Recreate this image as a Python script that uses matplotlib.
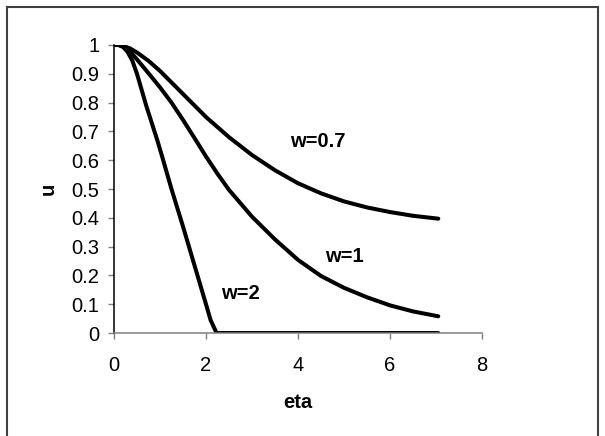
import matplotlib
matplotlib.use('Agg')
import matplotlib.pyplot as plt
from matplotlib.lines import Line2D

plt.rcParams['font.family'] = ['Liberation Sans', 'DejaVu Sans']

# eta / u values
eta_07 = [0, 0.1, 0.2, 0.35, 0.5, 0.75, 1.0, 1.25, 1.5, 2.0, 2.5, 3.0, 3.5, 4.0, 4.5, 5.0,
          5.5, 6.0, 6.5, 7.05]
u_07 = [1.0, 1.0, 0.997, 0.988, 0.974, 0.945, 0.91, 0.87, 0.83, 0.75, 0.68, 0.618, 0.565,
        0.52, 0.485, 0.457, 0.436, 0.42, 0.407, 0.397]

eta_1 = [0, 0.1, 0.2, 0.35, 0.5, 0.75, 1.0, 1.25, 1.5, 1.75, 2.0, 2.25, 2.5, 3.0, 3.5,
         4.0, 4.5, 5.0, 5.5, 6.0, 6.5, 7.05]
u_1 = [1.0, 1.0, 0.995, 0.977, 0.95, 0.902, 0.853, 0.80, 0.74, 0.677, 0.613, 0.553,
       0.497, 0.404, 0.325, 0.254, 0.198, 0.157, 0.124, 0.096, 0.075, 0.058]

eta_2 = [0, 0.1, 0.2, 0.3, 0.4, 0.5, 0.6, 0.7, 0.82, 0.95, 1.07, 1.25, 1.5, 1.75, 2.0, 2.1,
         2.23, 3.0, 4.0, 5.0, 6.0, 7.05]
u_2 = [1.0, 1.0, 0.993, 0.975, 0.945, 0.9, 0.845, 0.79, 0.73, 0.665, 0.6, 0.50, 0.37, 0.235,
       0.10, 0.045, 0.0, 0, 0, 0, 0, 0]

labels = ['w=0.7', 'w=1', 'w=2']
label_pos = [(4.43, 0.665), (5.0, 0.267), (2.75, 0.138)]

fig = plt.figure(figsize=(6.05, 4.36), dpi=100)
ax = fig.add_axes([0.1884, 0.2362, 0.6083, 0.6606])

for xs, ys in [(eta_07, u_07), (eta_1, u_1), (eta_2, u_2)]:
    ax.plot(xs, ys, color='black', lw=2.9, solid_capstyle='round', solid_joinstyle='round')

for txt, (x, y) in zip(labels, label_pos):
    ax.text(x, y, txt, ha='center', va='center', fontsize=14.5, fontweight='bold')

ax.set_xlim(0, 8)
ax.set_ylim(0, 1)
ax.set_xticks([0, 2, 4, 6, 8])
ax.set_yticks([i / 10 for i in range(11)])
ax.set_yticklabels(['0', '0.1', '0.2', '0.3', '0.4', '0.5', '0.6', '0.7', '0.8', '0.9', '1'])

for s in ['top', 'right']:
    ax.spines[s].set_visible(False)
ax.spines['left'].set_color('black')
ax.spines['left'].set_linewidth(1.1)
ax.spines['bottom'].set_color('#808080')
ax.spines['bottom'].set_linewidth(1.1)
ax.set_zorder(1)
ax.tick_params(direction='out', length=4.5, width=1, color='#808080', labelsize=14.5)
ax.tick_params(axis='y', pad=6)
ax.tick_params(axis='x', pad=12)

ax.set_xlabel('eta', fontsize=14.5, fontweight='bold', labelpad=13)
ax.set_ylabel('u', fontsize=14.5, fontweight='bold', labelpad=10)

# chart area border
W, H = 605, 436
fig.add_artist(Line2D([7 / W, 7 / W], [0, 1 - 7 / H], color='#404040', lw=1.5))
fig.add_artist(Line2D([7 / W, 598 / W], [1 - 7 / H, 1 - 7 / H], color='#404040', lw=1.5))
fig.add_artist(Line2D([598 / W, 598 / W], [0, 1 - 7 / H], color='#404040', lw=1.5))

fig.savefig('out.png', dpi=100)
